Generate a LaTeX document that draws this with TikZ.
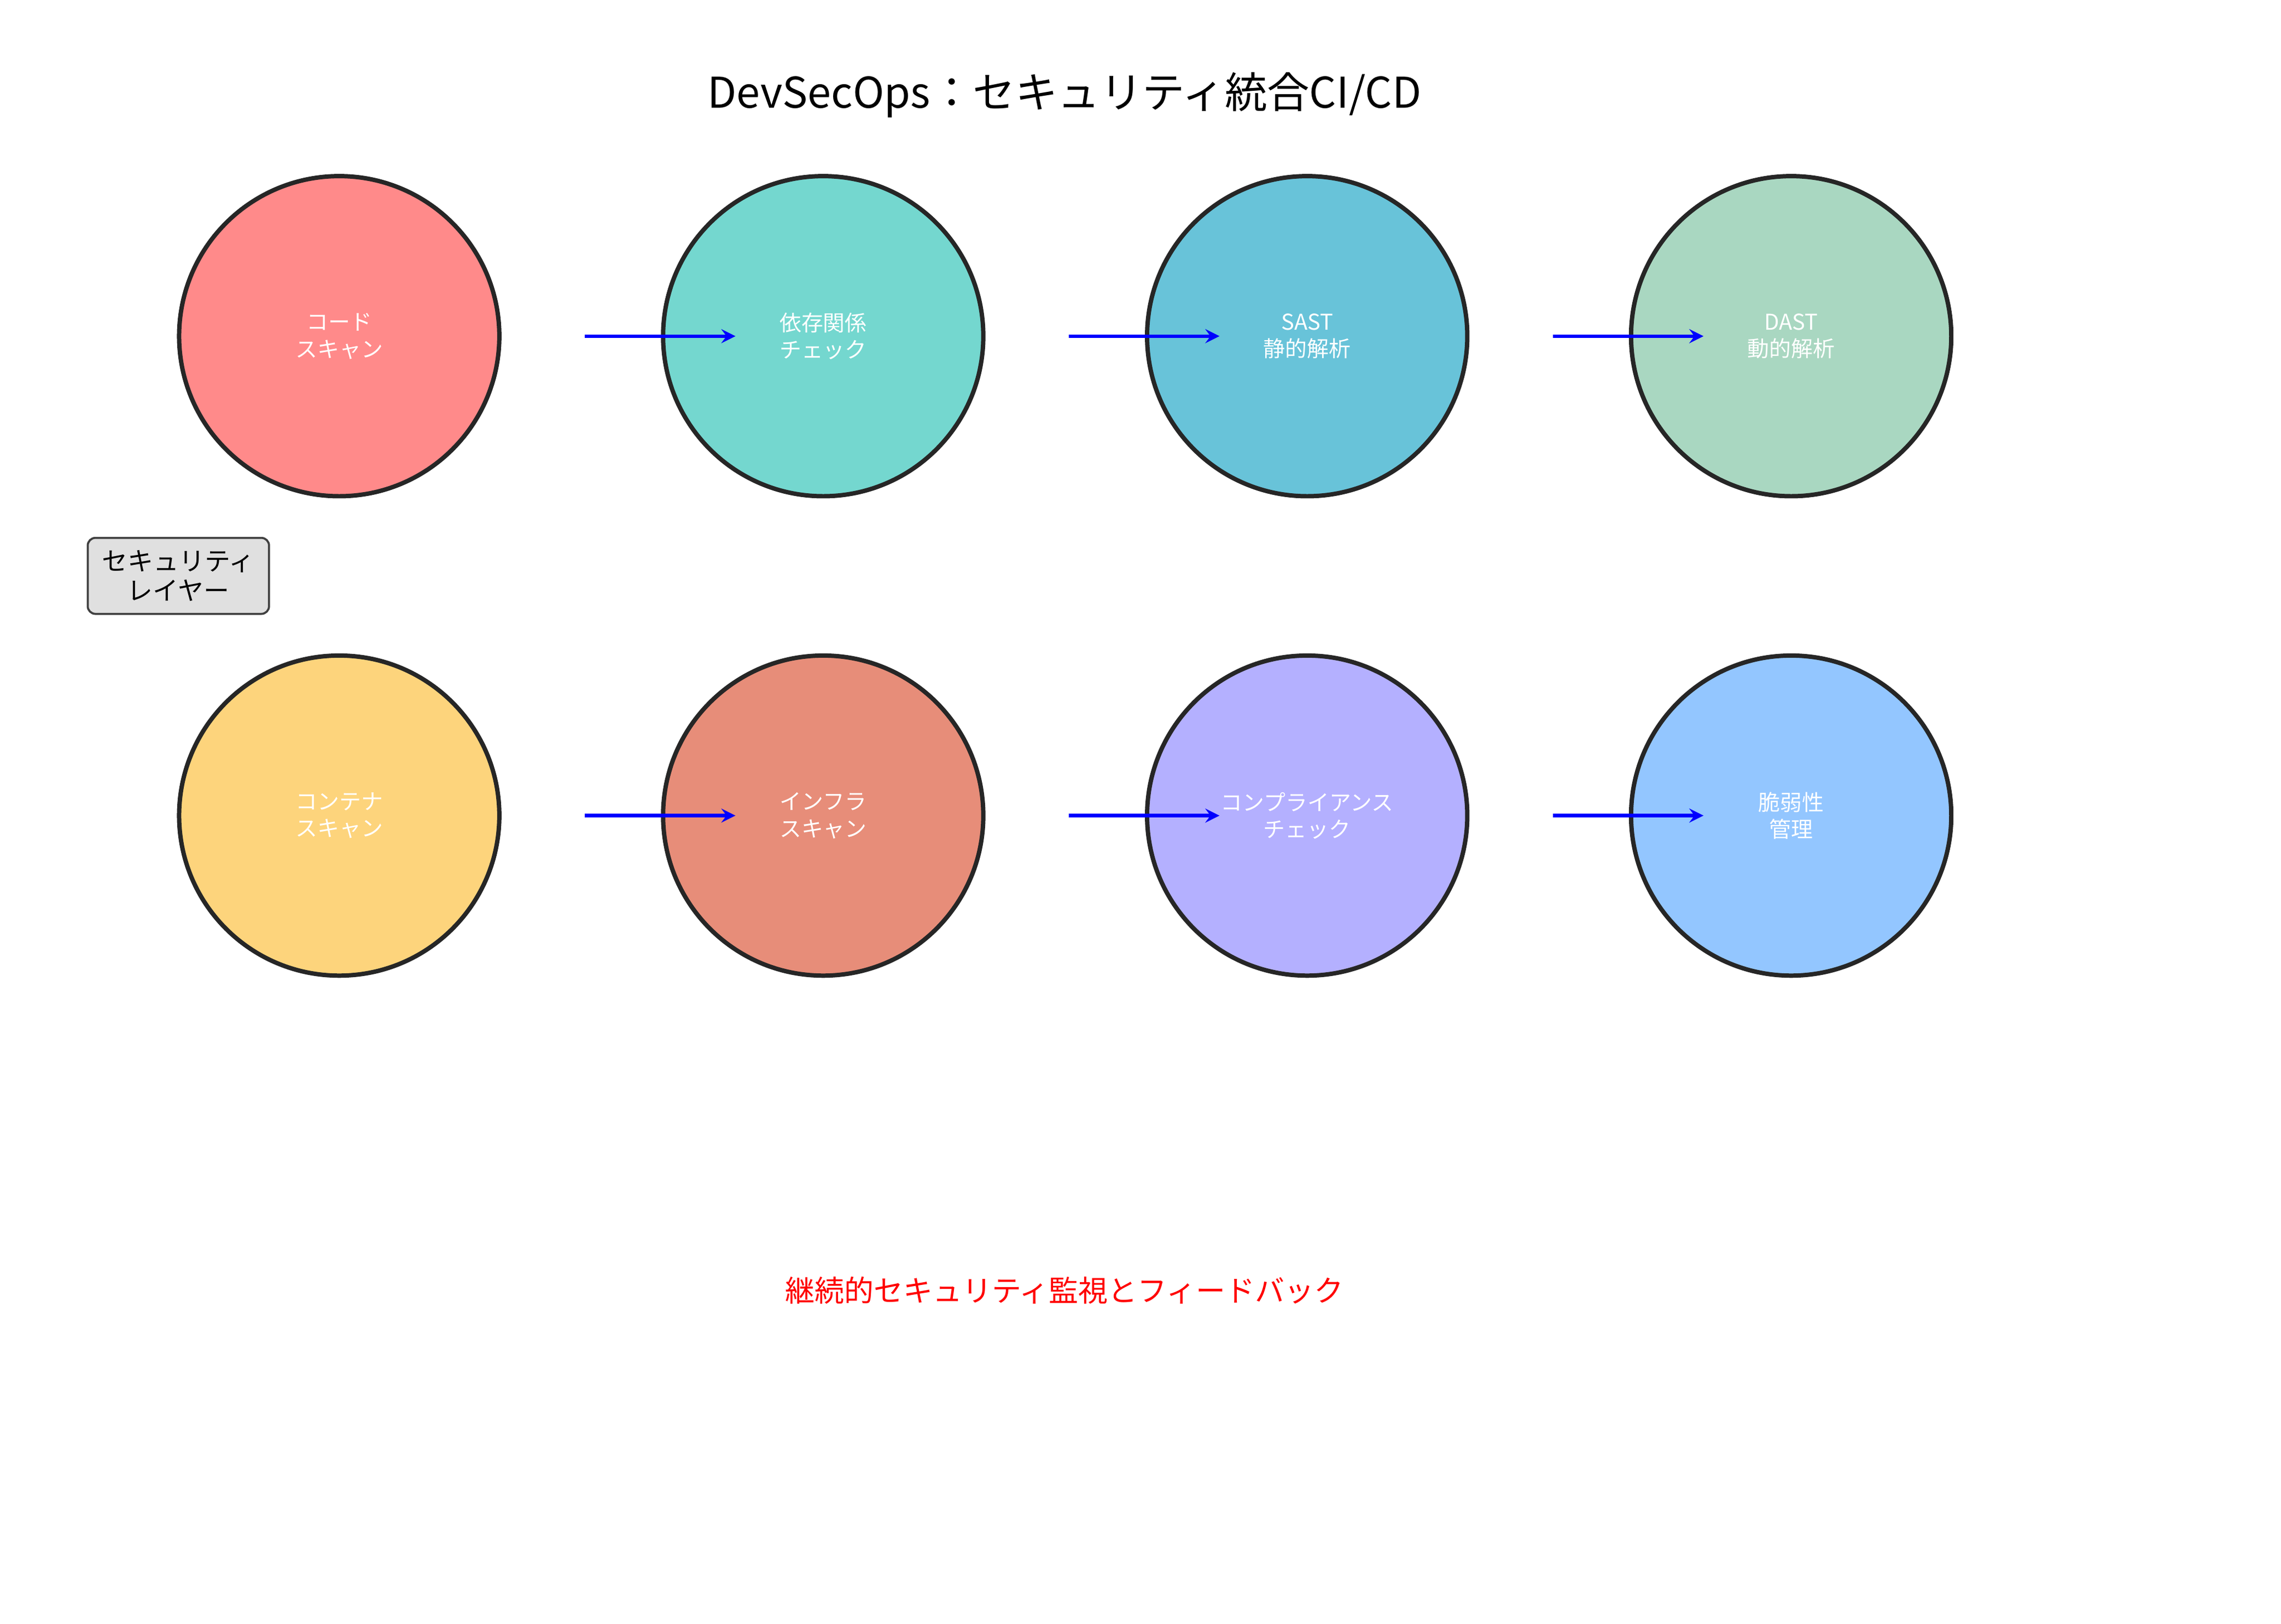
\documentclass[tikz,border=0pt]{standalone}
\usepackage{fontspec}
\setmainfont{Noto Sans CJK JP}
\begin{document}
\begin{tikzpicture}[x=0.02cm,y=-0.02cm,
  stage/.style={circle,draw=black!85,line width=1.7pt,minimum size=219*0.02cm,inner sep=0pt,text=white,font=\fontsize{8.5}{10.5}\selectfont,align=center},
  flow/.style={blue,line width=1.4pt,-stealth}]
\useasboundingbox (0,0) rectangle (1560,1111);
\node[font=\fontsize{16.5}{20}\selectfont] (title) at (728,65) {DevSecOps：セキュリティ統合CI/CD};
\def\rowA{230}\def\rowB{558}
\node[stage,fill={rgb,255:red,255;green,138;blue,138}] (c1) at (232,\rowA) {コード\\スキャン};
\node[stage,fill={rgb,255:red,116;green,215;blue,207}] (c2) at (563,\rowA) {依存関係\\チェック};
\node[stage,fill={rgb,255:red,104;green,195;blue,217}] (c3) at (894,\rowA) {SAST\\静的解析};
\node[stage,fill={rgb,255:red,169;green,215;blue,193}] (c4) at (1225,\rowA) {DAST\\動的解析};
\node[stage,fill={rgb,255:red,253;green,212;blue,124}] (d1) at (232,\rowB) {コンテナ\\スキャン};
\node[stage,fill={rgb,255:red,231;green,141;blue,121}] (d2) at (563,\rowB) {インフラ\\スキャン};
\node[stage,fill={rgb,255:red,180;green,176;blue,255}] (d3) at (894,\rowB) {コンプライアンス\\チェック};
\node[stage,fill={rgb,255:red,147;green,198;blue,255}] (d4) at (1225,\rowB) {脆弱性\\管理};
\foreach \y/\r in {\rowA/a,\rowB/b}{
  \foreach \i/\xs/\xe in {1/400/503,2/731/834,3/1062/1165}{
    \coordinate (s\r\i) at (\xs,\y); \coordinate (e\r\i) at (\xe,\y);
    \draw[flow] (s\r\i) -- (e\r\i);
  }}
\node[draw=black!75,fill=black!12,rounded corners=3pt,line width=0.8pt,minimum width=124*0.02cm,minimum height=52*0.02cm,align=center,font=\fontsize{10}{11.5}\selectfont,inner sep=1pt] (layer) at (122,394) {セキュリティ\\レイヤー};
\node[red,font=\fontsize{11.5}{14}\selectfont] (fb) at (728,883) {継続的セキュリティ監視とフィードバック};
\end{tikzpicture}
\end{document}
